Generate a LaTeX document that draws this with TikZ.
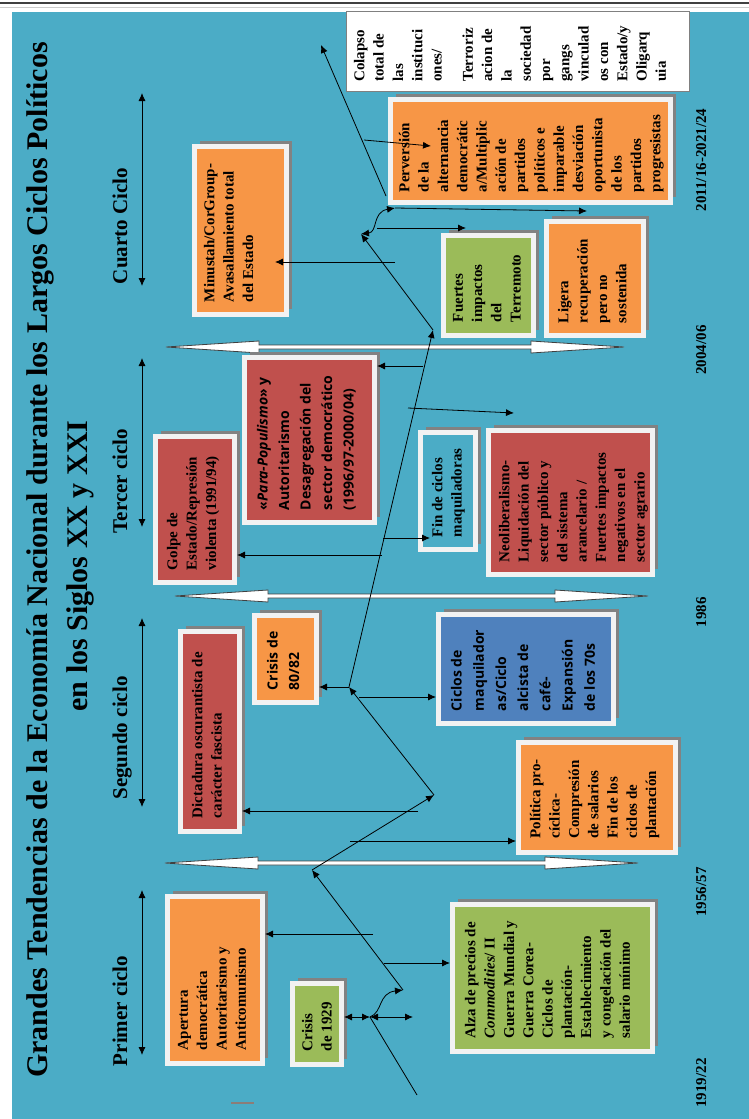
\documentclass[tikz,border=0pt]{standalone}
\usepackage{fontspec}
\usepackage{graphicx}
\setmainfont{Liberation Serif}
\newfontfamily\boxsans{Open Sans}
\usetikzlibrary{arrows.meta,calc,positioning,shadows}
\definecolor{my_teal}{RGB}{75,172,198}
\definecolor{my_orange}{RGB}{247,150,70}
\definecolor{my_red}{RGB}{192,80,77}
\definecolor{my_green}{RGB}{155,187,89}
\definecolor{my_blue}{RGB}{79,129,189}
\definecolor{my_rim}{RGB}{242,242,242}
\definecolor{my_shade}{RGB}{130,130,130}
\definecolor{my_line}{RGB}{64,64,64}
\definecolor{my_stray}{RGB}{140,125,120}
\newcommand{\rottext}[3]{\rotatebox{90}{\parbox[c][#2][t]{#1}{\raggedright #3}}}
\tikzset{
  panel/.style = {fill=#1, draw=my_rim, line width=5pt, inner sep=0pt,
    drop shadow={shadow xshift=5.5pt, shadow yshift=5.5pt, fill=my_shade, opacity=1}},
  serif_t/.style = {font=\fontsize{15}{19.3}\selectfont\bfseries},
  sans_t/.style = {font=\boxsans\fontsize{14}{21.5}\selectfont\bfseries},
  cycle_l/.style = {rotate=90, anchor=base, font=\fontsize{21}{25}\selectfont\bfseries},
  year_l/.style = {rotate=90, anchor=base, font=\fontsize{15}{18}\selectfont\bfseries},
  title_l/.style = {rotate=90, anchor=base, font=\fontsize{30}{36}\selectfont\bfseries},
  era/.style = {fill=white, draw=my_line, line width=0.8pt}
}
\begin{document}
\begin{tikzpicture}[x=1pt, y=-1pt, >={Latex[length=8pt,width=7pt]},
        trend/.style={line width=0.8pt, black}]
  \useasboundingbox (0,0) rectangle (749,1119);
  \fill[white] (0,0) rectangle (749,1119);
  \fill[my_teal] (12,12) rectangle (749,1119);
  \draw[my_line, line width=2pt] (0,3) -- (749,3);
  \draw[gray!40, line width=1pt] (0,7) -- (749,7);
  \draw[my_stray, line width=2pt] (231,1103) -- (254,1103);

  \node[title_l] (title1) at (47,560) {Grandes Tendencias de la Economía Nacional durante los Largos Ciclos Políticos};
  \node[title_l] (title2) at (87,566) {en los Siglos XX y XXI};

  \node[cycle_l] (lab1) at (127,1011) {Primer ciclo};
  \node[cycle_l] (lab2) at (127,738) {Segundo ciclo};
  \node[cycle_l] (lab3) at (127,481) {Tercer ciclo};
  \node[cycle_l] (lab4) at (127,226) {Cuarto Ciclo};
  \foreach \n/\ya/\yb in {1/890/1055, 2/618/807, 3/358/527, 4/93/286} {
    \coordinate (cyc\n a) at (142,\ya);
    \coordinate (cyc\n b) at (142,\yb);
    \draw[<->, trend] (cyc\n a) -- (cyc\n b);
  }

  \node[year_l] (yr1) at (706,1083) {1919/22};
  \node[year_l] (yr2) at (706,892) {1956/57};
  \node[year_l] (yr3) at (706,612) {1986};
  \node[year_l] (yr4) at (706,350) {2004/06};
  \node[year_l] (yr5) at (706,160) {2011/16-2021/24};

  \foreach \xa/\xb/\yy in {166/624/347, 175/648/596, 165/638/863}
    \draw[era] (\xa,\yy) -- (\xa+93,\yy-6) -- (\xa+93,\yy-2) -- (\xb-93,\yy-2) -- (\xb-93,\yy-6)
      -- (\xb,\yy) -- (\xb-93,\yy+6) -- (\xb-93,\yy+2) -- (\xa+93,\yy+2) -- (\xa+93,\yy+6) -- cycle;

  \node[serif_t, fill=white, draw=gray, line width=1pt, inner sep=0pt, minimum width=343pt, minimum height=80pt]
    (colapso) at (518,51.5) {\rottext{60pt}{328pt}{Colapso\\total de\\las\\instituci\\ones/\\[12pt]Terroriz\\acion de\\la\\sociedad\\por\\gangs\\vinculad\\os con\\Estado/y\\Oligarq\\uia}};
  \node[serif_t, panel=my_orange, minimum width=280pt, minimum height=103pt]
    (perversion) at (530.5,151) {\rottext{82pt}{263pt}{Perversión\\de la\\alternancia\\democrátic\\a/Multiplic\\ación de\\partidos\\políticos e\\imparable\\desviación\\oportunista\\de los\\partidos\\progresistas}};
  \node[serif_t, panel=my_orange, minimum width=92pt, minimum height=168pt]
    (minustah) at (240.5,230.5) {\rottext{143pt}{73pt}{Minustah/CorGroup-\\Avasallamiento total\\del Estado}};
  \node[serif_t, panel=my_green, minimum width=90pt, minimum height=100pt]
    (fuertes) at (488.5,285.5) {\rottext{73pt}{71pt}{Fuertes\\impactos\\del\\Terremoto}};
  \node[serif_t, panel=my_orange, minimum width=97pt, minimum height=114pt]
    (ligera) at (595,278.5) {\rottext{89pt}{74pt}{Ligera\\recuperación\\pero no\\sostenida}};

  \node[sans_t, panel=my_red, minimum width=130pt, minimum height=165pt]
    (para) at (309.5,440) {\rottext{140pt}{105pt}{«\textit{Para-Populismo}» y\\Autoritarismo\\Desagregación del\\sector democrático\\(1996/97-2000/04)}};
  \node[serif_t, panel=my_red, minimum width=79pt, minimum height=146pt]
    (golpe) at (195,509.5) {\rottext{121pt}{56pt}{Golpe de\\Estado/Represión\\violenta (1991/94)}};
  \node[serif_t, panel=my_teal, minimum width=55pt, minimum height=117pt]
    (fin) at (448,491) {\rottext{92pt}{32pt}{Fin de ciclos\\maquiladoras}};
  \node[serif_t, panel=my_red, minimum width=164pt, minimum height=144pt]
    (neolib) at (570.5,502.5) {\rottext{119pt}{143pt}{Neoliberalismo-\\Liquidación del\\sector público y\\del sistema\\arancelario /\\Fuertes impactos\\negativos en el\\sector agrario}};

  \node[sans_t, panel=my_orange, minimum width=62pt, minimum height=87pt]
    (crisis82) at (285.5,659) {\rottext{62pt}{37pt}{Crisis de\\80/82}};
  \node[serif_t, panel=my_red, minimum width=59pt, minimum height=200pt]
    (dictadura) at (210,731.5) {\rottext{173pt}{36pt}{Dictadura oscurantista de\\carácter fascista}};
  \node[sans_t, font=\boxsans\fontsize{14}{22.2}\selectfont\bfseries, panel=my_blue, minimum width=175pt, minimum height=109pt]
    (ciclos) at (526,669) {\rottext{84pt}{150pt}{Ciclos de\\maquilador\\as/Ciclo\\alcista de\\café-\\Expansión\\de los 70s}};
  \node[serif_t, panel=my_orange, minimum width=157pt, minimum height=110pt]
    (politica) at (597,797.5) {\rottext{82pt}{134pt}{Política pro-\\cíclica-\\Compresión\\de salarios\\Fin de los\\ciclos de\\plantación}};

  \node[serif_t, panel=my_orange, minimum width=95pt, minimum height=167pt]
    (apertura) at (215,980) {\rottext{140pt}{74pt}{Apertura\\democrática\\Autoritarismo y\\Anticomunismo}};
  \node[serif_t, panel=my_green, minimum width=49pt, minimum height=81pt]
    (crisis29) at (317,1024) {\rottext{54pt}{30pt}{Crisis\\de 1929}};
  \node[serif_t, panel=my_green, minimum width=200pt, minimum height=147pt]
    (alza) at (552.5,978) {\rottext{120pt}{175pt}{Alza de precios de\\\textit{Commodities}/ II\\Guerra Mundial y\\Guerra Corea-\\Ciclos de\\plantación-\\Establecimiento\\y congelación del\\salario mínimo}};

  \coordinate (z0) at (417,1095);
  \coordinate (z1) at (370,1017);
  \coordinate (z2) at (403,990);
  \coordinate (z3) at (312,870);
  \coordinate (z4) at (434,795);
  \coordinate (z5) at (349,687);
  \coordinate (z6) at (433,330);
  \coordinate (z7) at (361,234);
  \coordinate (z8) at (395,208);
  \coordinate (z8a) at (386,196);
  \coordinate (z9) at (321,45);
  \coordinate (q1) at (413,1017);
  \coordinate (p1) at (373,934);
  \coordinate (p2) at (384,963);
  \coordinate (s1) at (418,811);
  \coordinate (s2) at (350,841);
  \coordinate (s3) at (359,697);
  \coordinate (t1) at (382,555);
  \coordinate (t2) at (383,538);
  \coordinate (t3) at (423,366);
  \coordinate (t4) at (408,408);
  \coordinate (t4e) at (514,413);
  \coordinate (c1) at (395,262);
  \coordinate (c2) at (377,228);
  \coordinate (c2e) at (466,228);
  \coordinate (z8e) at (587,211);
  \coordinate (c3) at (364,140);
  \coordinate (c3e) at (431,146);

  \draw[trend] (z0) -- (z1);
  \draw[->, trend] (z1) .. controls (383,1012) and (378,993) .. (z2);
  \draw[->, trend] (z2) -- (z3);
  \draw[->, trend] (z3) -- (z4);
  \draw[->, trend] (z4) -- (z5);
  \draw[->, trend] (z5) -- (z6);
  \draw[->, trend] (z6) -- (z7);
  \draw[<->, trend] (z7) .. controls (378,232) and (372,212) .. (z8);
  \draw[->, trend] (z8a) -- (z9);
  \draw[<->, trend] (z1 -| crisis29.east) -- (z1);
  \draw[<->, trend] (z1) -- (q1);

  \draw[->, trend] (p1) -- (p1 -| apertura.east);
  \draw[->, trend] (p2) -- (p2 -| alza.west);
  \draw[->, trend] (s1) -- (s1 -| dictadura.east);
  \draw[->, trend] (s2) -- (s2 -| politica.west);
  \draw[->, trend] (z5) -- (z5 -| crisis82.east);
  \draw[->, trend] (s3) -- (s3 -| ciclos.west);
  \draw[->, trend] (t1) -- (t1 -| golpe.east);
  \draw[->, trend] (t2) -- ($(t2 -| fin.west)+(12,0)$);
  \draw[->, trend] (t3) -- (t3 -| para.east);
  \draw[->, trend] (t4) -- (t4e);
  \draw[->, trend] (c1) -- ($(c1 -| minustah.east)+(-14,0)$);
  \draw[->, trend] (c2) -- (c2e);
  \draw[->, trend] (z8) -- (z8e);
  \draw[->, trend] (c3) -- (c3e);
\end{tikzpicture}
\end{document}
